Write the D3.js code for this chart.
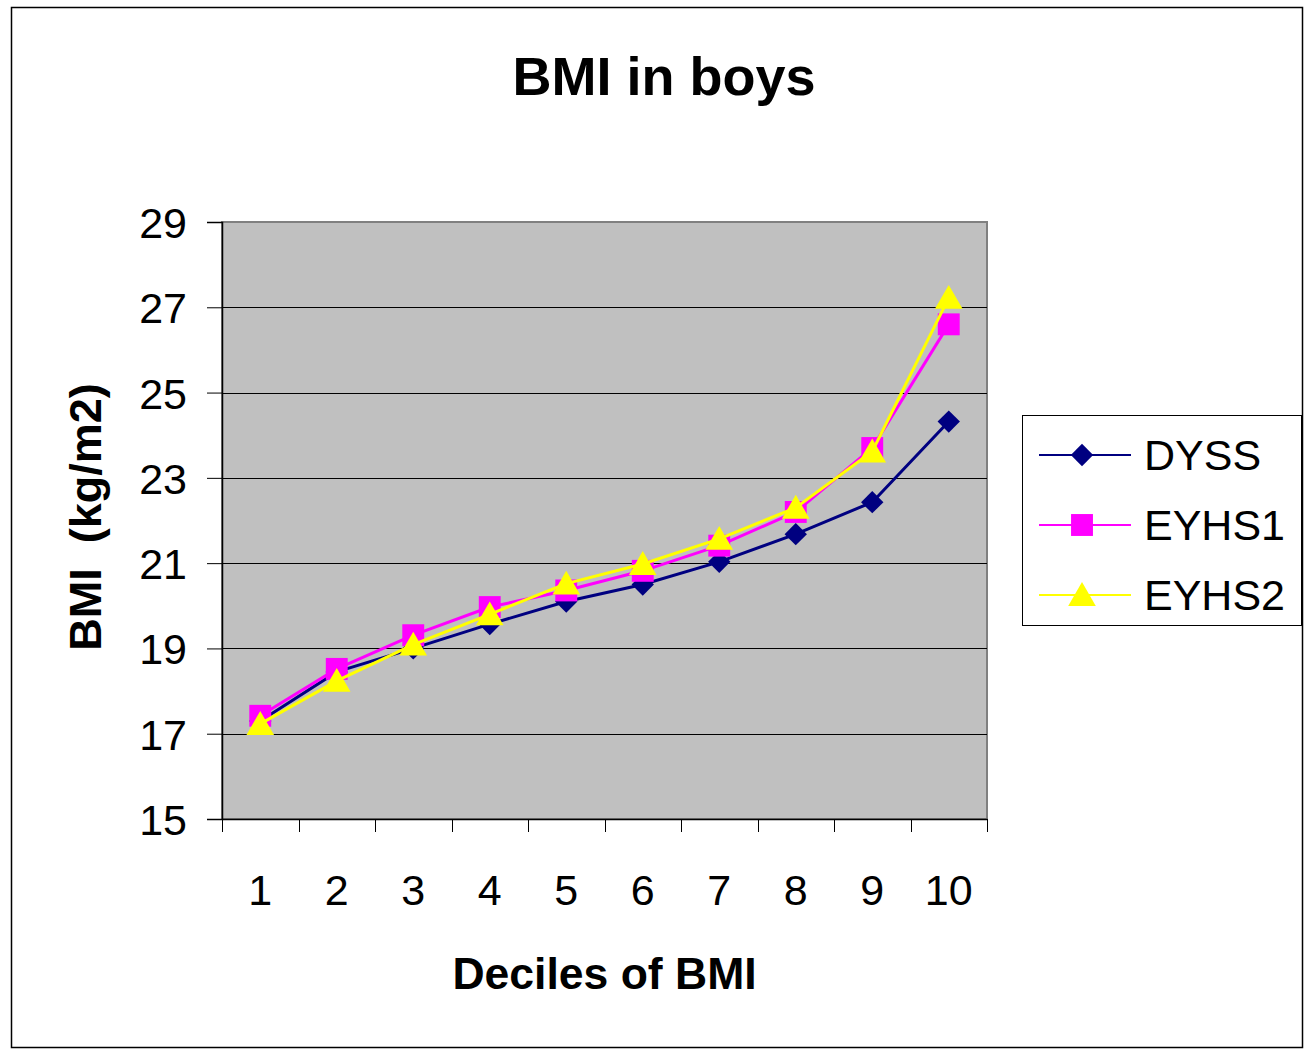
<!DOCTYPE html>
<html>
<head>
<meta charset="utf-8">
<script src="https://cdn.jsdelivr.net/npm/d3@7"></script>
<style>
  body { margin: 0; background: #fff; }
  svg text { font-family: "Liberation Sans", Arial, sans-serif; fill: #000; }
</style>
</head>
<body>
<svg width="1304" height="1049"></svg>
<script>
// data
var deciles = [1, 2, 3, 4, 5, 6, 7, 8, 9, 10];
var dyss  = [17.3, 18.45, 19.0, 19.57, 20.1, 20.5, 21.03, 21.68, 22.43, 24.32];
var eyhs1 = [17.42, 18.52, 19.31, 19.97, 20.36, 20.82, 21.41, 22.2, 23.7, 26.6];
var eyhs2 = [17.23, 18.24, 19.09, 19.8, 20.52, 20.98, 21.57, 22.3, 23.62, 27.22];
var yTicks = [15, 17, 19, 21, 23, 25, 27, 29];
var seriesNames = ["DYSS", "EYHS1", "EYHS2"];

// diamond = square turned 45 degrees, like the spreadsheet marker
var series = [
  {name: seriesNames[0], values: dyss,  color: "#000080", symbol: d3.symbolSquare,   size: 250, rot: 45, dy: 0},
  {name: seriesNames[1], values: eyhs1, color: "#ff00ff", symbol: d3.symbolSquare,   size: 480, rot: 0,  dy: 0},
  {name: seriesNames[2], values: eyhs2, color: "#ffff00", symbol: d3.symbolTriangle, size: 330, rot: 0,  dy: 3}
];

var svg = d3.select("svg");

// outer chart border
svg.append("rect")
    .attr("x", 11.5).attr("y", 7.5)
    .attr("width", 1291).attr("height", 1040)
    .attr("fill", "#fff")
    .attr("stroke", "#000")
    .attr("stroke-width", 1.5);

var plot = {left: 222, right: 987, top: 222, bottom: 819};

var x = d3.scaleBand().domain(deciles).range([plot.left, plot.right]).padding(0);
var y = d3.scaleLinear().domain([15, 29]).range([plot.bottom, plot.top]);

// plot area
svg.append("rect")
    .attr("x", plot.left).attr("y", plot.top)
    .attr("width", plot.right - plot.left).attr("height", plot.bottom - plot.top)
    .attr("fill", "#c0c0c0")
    .attr("stroke", "#808080")
    .attr("stroke-width", 2);

// gridlines
svg.append("g")
  .selectAll("line")
  .data(yTicks.filter(function(d) { return d > 15 && d < 29; }))
  .enter().append("line")
    .attr("x1", plot.left).attr("x2", plot.right)
    .attr("y1", function(d) { return Math.round(y(d)) + 0.5; })
    .attr("y2", function(d) { return Math.round(y(d)) + 0.5; })
    .attr("stroke", "#000")
    .attr("stroke-width", 1);

// y axis
var yAxis = svg.append("g")
    .attr("transform", "translate(" + plot.left + ",0)")
    .call(d3.axisLeft(y).tickValues(yTicks).tickSize(15).tickPadding(20));
yAxis.select(".domain").attr("stroke", "#000").attr("stroke-width", 1.5);
yAxis.selectAll(".tick line").attr("stroke", "#000");
yAxis.selectAll(".tick text")
    .attr("font-size", 43)
    .attr("font-family", "Liberation Sans, Arial, sans-serif")
    .attr("dy", "0.36em");

// x axis: labels centred in bands, ticks at band edges
var xAxis = svg.append("g")
    .attr("transform", "translate(0," + plot.bottom + ")")
    .call(d3.axisBottom(x).tickSize(0).tickPadding(55));
xAxis.select(".domain").attr("stroke", "#000").attr("stroke-width", 1.5);
xAxis.selectAll(".tick text")
    .attr("font-size", 43)
    .attr("font-family", "Liberation Sans, Arial, sans-serif");

var edges = deciles.map(function(d) { return x(d); }).concat([plot.right]);
xAxis.selectAll(".edge")
  .data(edges)
  .enter().append("line")
    .attr("class", "edge")
    .attr("x1", function(d) { return Math.round(d) + 0.5; })
    .attr("x2", function(d) { return Math.round(d) + 0.5; })
    .attr("y1", 0).attr("y2", 13)
    .attr("stroke", "#000");

// lines and markers
var line = d3.line()
    .x(function(d, i) { return x(deciles[i]) + x.bandwidth() / 2; })
    .y(function(d) { return y(d); });

series.forEach(function(s) {
  var g = svg.append("g");
  g.append("path")
      .attr("d", line(s.values))
      .attr("fill", "none")
      .attr("stroke", s.color)
      .attr("stroke-width", 3);
  g.selectAll("path.marker")
    .data(s.values)
    .enter().append("path")
      .attr("class", "marker")
      .attr("d", d3.symbol().type(s.symbol).size(s.size))
      .attr("transform", function(d, i) {
        return "translate(" + (x(deciles[i]) + x.bandwidth() / 2) + "," + (y(d) + s.dy) + ") rotate(" + s.rot + ")";
      })
      .attr("fill", s.color);
});

// titles
svg.append("text")
    .attr("x", 664).attr("y", 95)
    .attr("text-anchor", "middle")
    .attr("font-size", 54).attr("font-weight", "bold")
    .text("BMI in boys");

svg.append("text")
    .attr("x", (plot.left + plot.right) / 2).attr("y", 989)
    .attr("text-anchor", "middle")
    .attr("font-size", 44.5).attr("font-weight", "bold")
    .text("Deciles of BMI");

svg.append("text")
    .attr("transform", "translate(101," + 517 + ") rotate(-90)")
    .attr("text-anchor", "middle")
    .attr("font-size", 45).attr("font-weight", "bold")
    .style("white-space", "pre")
    .text("BMI  (kg/m2)");

// legend
var legend = svg.append("g");
legend.append("rect")
    .attr("x", 1022.5).attr("y", 415.5)
    .attr("width", 279).attr("height", 210)
    .attr("fill", "#fff")
    .attr("stroke", "#000")
    .attr("stroke-width", 1);

var items = legend.selectAll("g.item")
  .data(series)
  .enter().append("g")
    .attr("class", "item")
    .attr("transform", function(d, i) { return "translate(0," + (455 + i * 70) + ")"; });

items.append("line")
    .attr("x1", 1039).attr("x2", 1131)
    .attr("y1", 0).attr("y2", 0)
    .attr("stroke", function(d) { return d.color; })
    .attr("stroke-width", 2);

items.append("path")
    .attr("d", function(d) { return d3.symbol().type(d.symbol).size(d.size)(); })
    .attr("transform", function(d) {
      return "translate(1082," + d.dy + ") rotate(" + d.rot + ")";
    })
    .attr("fill", function(d) { return d.color; });

items.append("text")
    .attr("x", 1144).attr("y", 0)
    .attr("dy", "0.36em")
    .attr("font-size", 43)
    .text(function(d) { return d.name; });
</script>
</body>
</html>
